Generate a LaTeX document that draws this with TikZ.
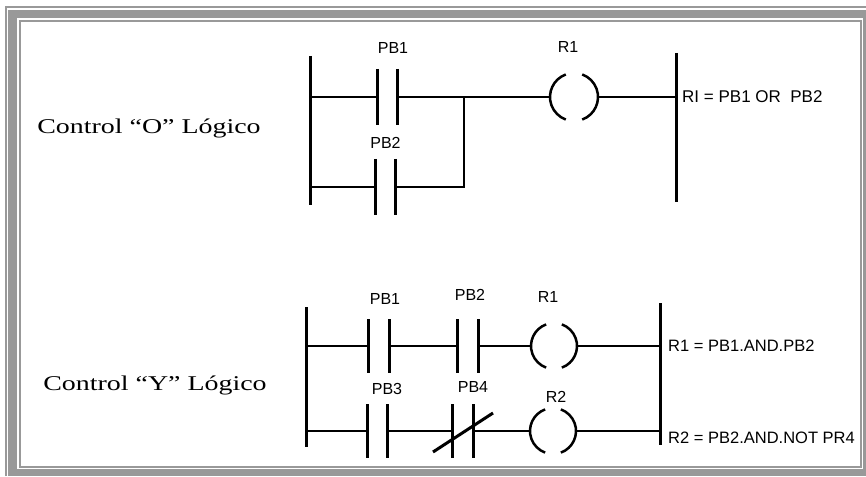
\documentclass[tikz,border=0pt]{standalone}
\usepackage{fontspec}
\setmainfont{Liberation Serif}
\setsansfont{Liberation Sans}
\newfontfamily\ctrlfont[FakeStretch=1.33]{Liberation Serif}
\usetikzlibrary{positioning}

\begin{document}
\begin{tikzpicture}[x=1pt, y=-1pt, line cap=butt]

  % Estilos
  \tikzstyle{rail} = [line width=3pt]
  \tikzstyle{wire} = [line width=2.5pt]
  \tikzstyle{thinwire} = [line width=2pt]
  \tikzstyle{contact} = [rectangle, draw=none, minimum width=20pt, minimum height=56pt, inner sep=0pt]
  \tikzstyle{coil} = [circle, draw=none, minimum size=48pt, inner sep=0pt]
  \tikzstyle{lab} = [font=\sffamily\fontsize{16}{19}\selectfont, inner sep=0pt]
  \tikzstyle{eq} = [font=\sffamily\fontsize{17}{20}\selectfont, inner sep=0pt, anchor=west]
  \tikzstyle{ctrl} = [font=\ctrlfont\fontsize{21}{25}\selectfont, inner sep=0pt]

  \useasboundingbox (0,0) rectangle (866,476);

  % Marco
  \fill[black!40] (8,10) rectangle (866,476);
  \fill[white] (17,18) rectangle (863,469);
  \draw[black!40, line width=2pt] (20,21) rectangle (861,467);
  \draw[black!40, line width=2pt] (6,476) -- (6,7) -- (866,7);

  % Textos
  \node[ctrl] (ctrlO) at (149,128) {Control “O” Lógico};
  \node[ctrl] (ctrlY) at (155,385) {Control “Y” Lógico};

  % Escalera OR
  \coordinate (Lt) at (310,56);
  \coordinate (Lb) at (310,205);
  \coordinate (Rt) at (676,53);
  \coordinate (Rb) at (676,202);
  \node[contact] (pb1) at (387.5,97) {};
  \node[contact] (pb2) at (385.5,187) {};
  \node[coil] (r1) at (574,97) {};
  \coordinate (j1) at (464,97);

  \node[lab, above=15pt of pb1, xshift=5.5pt] (lpb1) {PB1};
  \node[lab, above=10pt of pb2] (lpb2) {PB2};
  \node[lab, above=20pt of r1, xshift=-6pt] (lr1) {R1};
  \node[eq] (eqO) at ([xshift=6pt]Rt |- r1) {RI = PB1 OR\ \ PB2};

  \draw[rail] (Lt) -- (Lb);
  \draw[rail] (Rt) -- (Rb);
  \draw[wire] (Lt |- pb1) -- (pb1.west);
  \draw[wire] (pb1.east) -- (r1.west);
  \draw[wire] (r1.east) -- (Rt |- r1);
  \draw[wire] (Lt |- pb2) -- (pb2.west);
  \draw[wire] (pb2.east) -| (j1);

  % Escalera AND
  \coordinate (La) at (306,307);
  \coordinate (Lc) at (306,447);
  \coordinate (Ra) at (660,303);
  \coordinate (Rc) at (660,445);
  \node[contact, minimum height=53pt] (pbA) at (379,346) {};
  \node[contact, minimum height=53pt] (pbB) at (468,346) {};
  \node[contact, minimum height=53pt] (pbC) at (377.5,431) {};
  \node[contact, minimum height=53pt] (pbD) at (463,431) {};
  \node[coil, minimum size=46pt] (rA) at (554,346) {};
  \node[coil, minimum size=46pt] (rB) at (553,431) {};

  \node[lab, above=14.5pt of pbA, xshift=6pt] (lpbA) {PB1};
  \node[lab, above=18.5pt of pbB, xshift=2pt] (lpbB) {PB2};
  \node[lab, above=9.5pt of pbC, xshift=9.5pt] (lpbC) {PB3};
  \node[lab, above=11.5pt of pbD, xshift=10pt] (lpbD) {PB4};
  \node[lab, above=20pt of rA, xshift=-6pt] (lrA) {R1};
  \node[lab, above=5pt of rB, xshift=3pt] (lrB) {R2};
  \node[eq, font=\sffamily\fontsize{16.5}{19}\selectfont] (eqA) at ([xshift=8pt]Ra |- rA) {R1 = PB1.AND.PB2};
  \node[eq, font=\sffamily\fontsize{16.5}{19}\selectfont] (eqB) at ([xshift=8pt, yshift=-7pt]Ra |- rB) {R2 = PB2.AND.NOT PR4};

  \draw[rail] (La) -- (Lc);
  \draw[rail] (Ra) -- (Rc);
  \draw[thinwire] (La |- pbA) -- (pbA.west);
  \draw[thinwire] (pbA.east) -- (pbB.west);
  \draw[thinwire] (pbB.east) -- (rA.west);
  \draw[thinwire] (rA.east) -- (Ra |- rA);
  \draw[thinwire] (La |- pbC) -- (pbC.west);
  \draw[thinwire] (pbC.east) -- (pbD.west);
  \draw[thinwire] (pbD.east) -- (rB.west);
  \draw[thinwire] (rB.east) -- (Ra |- rB);
  \draw[rail] ([shift={(-30,21)}]pbD.center) -- ([shift={(30,-18)}]pbD.center); % contacto cerrado

  % Placas y bobinas
  \foreach \c in {pb1,pb2,pbA,pbB,pbC,pbD}
    \draw[rail] (\c.north west) -- (\c.south west) (\c.north east) -- (\c.south east);
  \foreach \c/\r in {r1/24,rA/23,rB/23}
    \draw[wire] ([shift={(110:\r pt)}]\c.center) arc[start angle=110, end angle=250, radius=\r pt]
                ([shift={(-70:\r pt)}]\c.center) arc[start angle=-70, end angle=70, radius=\r pt];

\end{tikzpicture}
\end{document}
